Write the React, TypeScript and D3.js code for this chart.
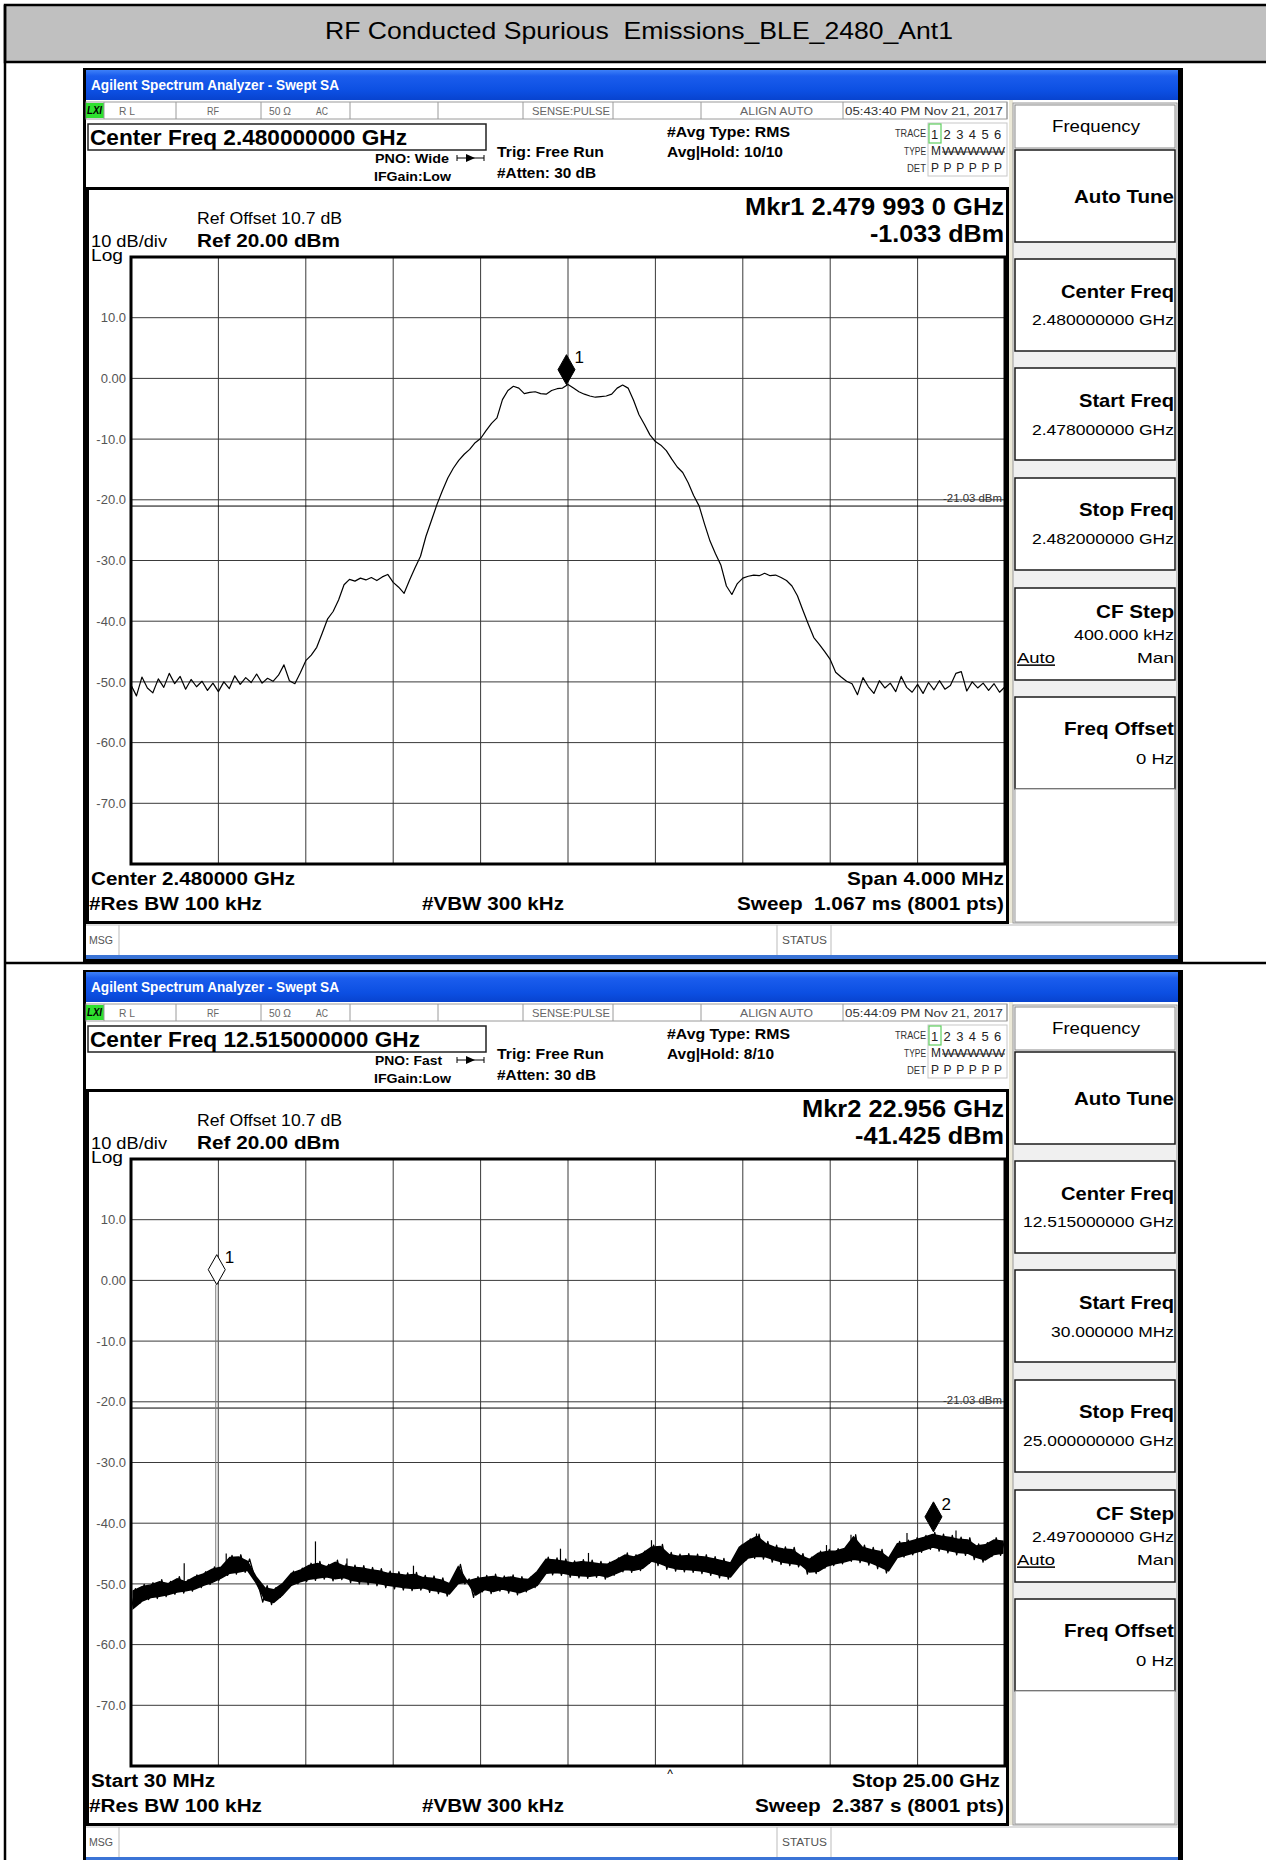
import React from 'react';
import * as d3 from 'd3';

const FONT = '"Liberation Sans", Arial, Helvetica, sans-serif';

const pageTitle = 'RF Conducted Spurious  Emissions_BLE_2480_Ant1';

// amplitude axis (dBm)
const refLevel = 20;
const bottomLevel = -80;
const yTickValues = [10, 0, -10, -20, -30, -40, -50, -60, -70];
const yTickLabels = ['10.0', '0.00', '-10.0', '-20.0', '-30.0', '-40.0', '-50.0', '-60.0', '-70.0'];
const displayLineLevel = -21.03;
const displayLineLabel = '-21.03 dBm';

// ---- Screen 1: 2.478 - 2.482 GHz (MHz), levels every 0.025 MHz
const trace1Start = 2478.0;
const trace1Stop = 2482.0;
const trace1Level = [
  -50.5, -52.3, -49.2, -51.0, -51.8, -49.5, -50.9, -48.6, -50.3, -49.1,
  -51.2, -49.6, -50.8, -49.9, -51.4, -50.2, -51.6, -50.0, -51.1, -49.0,
  -50.4, -49.3, -50.1, -48.7, -50.2, -49.4, -49.9, -48.9, -47.2, -49.8,
  -50.3, -48.5, -46.5, -45.6, -44.3, -42.0, -39.6, -38.4, -36.5, -34.0,
  -33.1, -33.4, -32.9, -33.2, -32.8, -33.3, -32.7, -32.3, -33.6, -34.4,
  -35.4, -33.2, -31.2, -29.3, -26.0, -23.4, -20.8, -18.5, -16.4, -14.8,
  -13.5, -12.5, -11.7, -10.6, -9.9, -8.6, -7.4, -6.5, -3.5, -2.0,
  -1.3, -1.6, -2.5, -2.3, -2.2, -2.5, -2.6, -2.0, -1.7, -1.6,
  -1.0, -1.6, -2.2, -2.6, -2.9, -3.1, -3.0, -2.9, -2.6, -1.6,
  -1.1, -1.6, -3.6, -6.0, -7.6, -9.3, -10.4, -11.0, -11.9, -13.3,
  -14.6, -15.5, -17.2, -19.3, -21.0, -24.0, -26.8, -28.9, -30.8, -34.2,
  -35.6, -33.8, -32.9, -32.6, -32.4, -32.5, -32.1, -32.5, -32.4, -32.8,
  -33.3, -34.2, -35.8, -38.2, -40.5, -42.7, -43.8, -45.0, -46.3, -48.4,
  -49.2, -49.9, -50.3, -52.1, -49.3, -50.8, -51.9, -49.8, -51.0, -50.2,
  -51.6, -49.1, -50.9, -51.7, -50.4, -51.9, -50.1, -51.3, -49.8, -51.2,
  -50.6, -48.6, -48.3, -51.5, -50.0, -51.0, -50.2, -51.4, -50.3, -51.7,
  -50.8,
];
const marker1Freq = [2479.993];
const marker1Level = [-1.033];
const marker1Name = ['1'];
const marker1Filled = [true];

// ---- Screen 2: 30 MHz - 25 GHz (GHz); alternating low/high readings of the noise band
const trace2Start = 0.03;
const trace2Stop = 25.0;
const trace2Level = [
  -54.4, -50.8, -53.2, -50.1, -52.6, -49.8, -52.4, -49.3,
  -52.1, -49.6, -51.7, -48.8, -51.5, -49.3, -51.2, -48.5,
  -50.6, -48.0, -50.1, -47.2, -49.4, -46.9, -48.6, -45.3,
  -48.4, -45.2, -48.1, -45.9, -48.5, -50.2, -53.0, -50.3,
  -53.4, -50.6, -52.2, -49.6, -50.6, -47.9, -50.0, -47.4,
  -49.6, -46.6, -49.4, -46.3, -49.2, -46.8, -49.5, -46.1,
  -49.3, -46.7, -49.8, -46.9, -50.0, -47.0, -50.1, -47.3,
  -50.3, -47.5, -50.6, -47.9, -50.8, -48.0, -51.0, -48.2,
  -51.1, -48.1, -51.0, -48.6, -51.4, -48.7, -51.6, -49.0,
  -52.0, -49.6, -50.3, -46.8, -50.0, -49.2, -52.2, -48.8,
  -51.3, -48.6, -51.6, -48.4, -51.2, -48.7, -51.5, -48.5,
  -51.8, -48.8, -51.3, -48.9, -50.6, -47.6, -48.6, -45.6,
  -48.5, -45.7, -48.6, -45.9, -48.9, -46.2, -49.0, -46.0,
  -49.1, -46.1, -48.9, -46.3, -49.2, -46.4, -48.6, -45.7,
  -48.0, -44.9, -48.1, -45.2, -47.8, -44.6, -46.6, -43.6,
  -47.0, -43.5, -47.6, -44.8, -47.9, -45.1, -48.0, -45.0,
  -48.1, -45.1, -48.3, -45.2, -48.6, -45.5, -49.0, -45.8,
  -49.2, -46.2, -47.4, -43.6, -46.1, -42.6, -45.8, -41.8,
  -45.9, -43.0, -46.4, -43.6, -46.8, -43.9, -47.0, -44.0,
  -47.2, -45.0, -48.4, -45.6, -48.3, -44.6, -47.4, -44.3,
  -47.0, -44.2, -46.7, -43.8, -46.3, -41.9, -46.5, -43.6,
  -46.9, -44.0, -47.5, -44.3, -48.2, -45.4, -46.0, -43.0,
  -45.6, -42.8, -45.2, -42.4, -44.8, -42.0, -44.3, -41.5,
  -44.6, -41.8, -44.9, -42.0, -45.2, -42.3, -45.3, -42.4,
  -46.0, -43.4, -46.4, -43.2, -45.5, -42.4, -45.3, -42.6,
];
// narrow spikes on top of the band
const spur2Freq = [2.48, 5.3, 1.55, 2.75, 6.2, 8.1, 12.3, 13.1, 14.9, 17.9, 19.9, 20.6, 22.2, 23.6];
const spur2Top = [-0.7, -43.0, -46.6, -45.0, -45.8, -47.0, -44.2, -44.9, -42.8, -41.7, -43.6, -41.9, -41.6, -41.2];
const spur2Base = [-47.6, -48.0, -49.5, -47.0, -48.0, -49.3, -47.0, -47.5, -45.2, -44.2, -46.0, -45.0, -44.0, -43.5];
const spur2Gray = [true, false, false, false, false, false, false, false, false, false, false, false, false, false];
const marker2Freq = [2.48, 22.956];
const marker2Level = [-0.7, -41.425];
const marker2Name = ['1', '2'];
const marker2Filled = [false, true];
const caret2Freq = [15.43];

const statusCells = ['R L', 'RF', '50 Ω', 'AC', 'SENSE:PULSE', 'ALIGN AUTO'];

const screens = [
  {
    dy: 0,
    time: '05:43:40 PM Nov 21, 2017',
    center: 'Center Freq 2.480000000 GHz', centerW: 317,
    pno: 'PNO: Wide', pnoW: 74,
    avg: 'Avg|Hold: 10/10', avgW: 116,
    mkrA: 'Mkr1 2.479 993 0 GHz', mkrAW: 259,
    mkrB: '-1.033 dBm', mkrBW: 134,
    keyCenter: '2.480000000 GHz', keyCenterW: 142,
    keyStart: '2.478000000 GHz', keyStartW: 142,
    keyStop: '2.482000000 GHz', keyStopW: 142,
    keyStep: '400.000 kHz', keyStepW: 100,
    botL: 'Center 2.480000 GHz', botLW: 204,
    botR: 'Span 4.000 MHz', botRW: 157, botRX: 1004,
    sweep: 'Sweep  1.067 ms (8001 pts)', sweepW: 267,
    start: trace1Start, stop: trace1Stop, levels: trace1Level, band: false,
    mFreq: marker1Freq, mLevel: marker1Level, mName: marker1Name, mFilled: marker1Filled,
    sFreq: [] as number[], sTop: [] as number[], sBase: [] as number[], sGray: [] as boolean[],
    caret: [] as number[], traceWidth: 1.2,
  },
  {
    dy: 902,
    time: '05:44:09 PM Nov 21, 2017',
    center: 'Center Freq 12.515000000 GHz', centerW: 330,
    pno: 'PNO: Fast', pnoW: 67,
    avg: 'Avg|Hold: 8/10', avgW: 107,
    mkrA: 'Mkr2 22.956 GHz', mkrAW: 202,
    mkrB: '-41.425 dBm', mkrBW: 149,
    keyCenter: '12.515000000 GHz', keyCenterW: 151,
    keyStart: '30.000000 MHz', keyStartW: 123,
    keyStop: '25.000000000 GHz', keyStopW: 151,
    keyStep: '2.497000000 GHz', keyStepW: 142,
    botL: 'Start 30 MHz', botLW: 124,
    botR: 'Stop 25.00 GHz', botRW: 148, botRX: 1000,
    sweep: 'Sweep  2.387 s (8001 pts)', sweepW: 249,
    start: trace2Start, stop: trace2Stop, levels: trace2Level, band: true,
    mFreq: marker2Freq, mLevel: marker2Level, mName: marker2Name, mFilled: marker2Filled,
    sFreq: spur2Freq, sTop: spur2Top, sBase: spur2Base, sGray: spur2Gray,
    caret: caret2Freq, traceWidth: 1.3,
  },
];

// layout
const GX0 = 131, GX1 = 1005, GY0 = 257, GY1 = 864;

type TP = {
  x: number; y: number; size: number; bold?: boolean; anchor?: 'start' | 'middle' | 'end';
  w?: number; fill?: string; italic?: boolean; underline?: boolean; children: React.ReactNode;
};
function T({ x, y, size, bold, anchor = 'start', w, fill = '#000', italic, underline, children }: TP) {
  return (
    <text
      x={x}
      y={y + size * 0.36}
      fontSize={size}
      fontFamily={FONT}
      fontWeight={bold ? 'bold' : 'normal'}
      fontStyle={italic ? 'italic' : 'normal'}
      textAnchor={anchor}
      fill={fill}
      textLength={w}
      lengthAdjust={w ? 'spacingAndGlyphs' : undefined}
      textDecoration={underline ? 'underline' : undefined}
      style={{ whiteSpace: 'pre' }}
    >
      {children}
    </text>
  );
}

function Screen({ cfg }: { cfg: (typeof screens)[number] }) {
  const x = d3.scaleLinear().domain([cfg.start, cfg.stop]).range([GX0, GX1]);
  const y = d3.scaleLinear().domain([bottomLevel, refLevel]).range([GY1, GY0]);
  const n = cfg.levels.length;
  const step = (cfg.stop - cfg.start) / (n - 1);
  const line = d3
    .line<number>()
    .x((_, i) => x(cfg.start + i * step))
    .y((d) => y(d));
  const pairs = d3.range(Math.floor(n / 2)).map((k) => ({
    f: cfg.start + (2 * k + 0.5) * step,
    a: cfg.levels[2 * k],
    b: cfg.levels[2 * k + 1],
  }));
  // solid core of the noise band, inset so the trace teeth stick out of it
  const inset = 2.2;
  const area = d3
    .area<{ f: number; a: number; b: number }>()
    .x((p) => x(p.f))
    .y0((p) => {
      const lo = y(Math.min(p.a, p.b));
      const hi = y(Math.max(p.a, p.b));
      return Math.max(lo - inset, (lo + hi) / 2);
    })
    .y1((p) => {
      const lo = y(Math.min(p.a, p.b));
      const hi = y(Math.max(p.a, p.b));
      return Math.min(hi + inset, (lo + hi) / 2);
    });
  const vGrid = d3.range(11).map((i) => cfg.start + (i * (cfg.stop - cfg.start)) / 10);
  const hGrid = d3.range(bottomLevel, refLevel + 1, 10);

  const statusDiv = [104, 176, 261, 350, 438, 523, 613, 701, 843, 1007];
  const statusX = [119, 207, 269, 316, 532, 740];
  const statusW = [16, 12, 22, 12, 78, 73];

  const keyBoxes = [
    [150, 242], [259, 351], [368, 460], [478, 570], [588, 680], [697, 789],
  ];

  return (
    <g transform={`translate(0,${cfg.dy})`}>
      {/* frame */}
      <rect x={83} y={68} width={1100} height={894} fill="#000" />
      <rect x={86} y={100} width={1092} height={855} fill="#fff" />
      <rect x={86} y={70} width={1092} height={30} fill="url(#xpBlue)" />
      <T x={91} y={85} size={15} bold fill="#fff" w={248}>Agilent Spectrum Analyzer - Swept SA</T>
      <rect x={86} y={955} width={1092} height={4} fill="#3b74d6" />

      {/* status row */}
      <rect x={86} y={102} width={921} height={17} fill="#fff" stroke="#9a9a9a" strokeWidth={1} />
      <rect x={86} y={103} width={18} height={15} fill="#2fe02f" />
      <T x={87} y={110.5} size={10} bold italic w={15} fill="#000">LXI</T>
      {statusDiv.map((d) => (
        <line key={d} x1={d} x2={d} y1={102} y2={119} stroke="#9a9a9a" strokeWidth={1} />
      ))}
      {statusCells.map((s, i) => (
        <T key={s} x={statusX[i]} y={110.5} size={11.5} fill="#666" w={statusW[i]}>{s}</T>
      ))}
      <T x={845} y={110.5} size={11.5} fill="#333" w={158}>{cfg.time}</T>

      {/* header */}
      <rect x={88} y={124} width={398} height={26} fill="#fff" stroke="#222" strokeWidth={1.5} />
      <T x={90} y={137} size={22} bold w={cfg.centerW}>{cfg.center}</T>
      <T x={375} y={158} size={13} bold w={cfg.pnoW}>{cfg.pno}</T>
      <line x1={457} x2={484} y1={158} y2={158} stroke="#000" strokeWidth={1} />
      <line x1={457} x2={457} y1={155} y2={161} stroke="#000" strokeWidth={1} />
      <line x1={484} x2={484} y1={155} y2={161} stroke="#000" strokeWidth={1} />
      <path d="M466,154 L475,158 L466,162 Z" fill="#000" />
      <T x={374} y={176} size={13} bold w={77}>IFGain:Low</T>
      <T x={497} y={152} size={14} bold w={107}>Trig: Free Run</T>
      <T x={497} y={173} size={14} bold w={99}>#Atten: 30 dB</T>
      <T x={667} y={132} size={14} bold w={123}>#Avg Type: RMS</T>
      <T x={667} y={152} size={14} bold w={cfg.avgW}>{cfg.avg}</T>
      <rect x={928} y={123} width={79} height={53} fill="#fff" stroke="#c8c8c8" strokeWidth={1} />
      <rect x={929} y={124} width={12} height={19} fill="none" stroke="#5fcf5f" strokeWidth={1.2} />
      <T x={926} y={133} size={10} anchor="end" fill="#333" w={31}>TRACE</T>
      <T x={926} y={151} size={10} anchor="end" fill="#333" w={22}>TYPE</T>
      <T x={926} y={168} size={10} anchor="end" fill="#333" w={19}>DET</T>
      {['1', '2', '3', '4', '5', '6'].map((c, i) => (
        <T key={'d' + c} x={931 + i * 12.6} y={134} size={13} fill="#222">{c}</T>
      ))}
      <T x={931} y={151} size={12} fill="#222">M</T>
      <T x={942} y={151} size={10} fill="#222" w={63}>WWWWW</T>
      <line x1={942} x2={1005} y1={152} y2={152} stroke="#222" strokeWidth={0.8} />
      {[0, 1, 2, 3, 4, 5].map((i) => (
        <T key={'p' + i} x={931 + i * 12.6} y={168} size={12} fill="#222">P</T>
      ))}

      {/* plot panel */}
      <rect x={87.5} y={188.5} width={920} height={734} fill="#fff" stroke="#000" strokeWidth={3} />
      <rect x={1009} y={100} width={4} height={823} fill="#ece9d8" />
      <T x={91} y={241} size={16} w={76}>10 dB/div</T>
      <T x={91} y={255} size={16} w={32}>Log</T>
      <T x={197} y={218} size={16} w={145}>Ref Offset 10.7 dB</T>
      <T x={197} y={240} size={19} bold w={143}>Ref 20.00 dBm</T>
      <T x={1004} y={206} size={24} bold anchor="end" w={cfg.mkrAW}>{cfg.mkrA}</T>
      <T x={1004} y={233} size={24} bold anchor="end" w={cfg.mkrBW}>{cfg.mkrB}</T>

      {/* graticule */}
      {vGrid.map((v, i) => (
        <line key={'v' + i} x1={x(v)} x2={x(v)} y1={GY0} y2={GY1} stroke="#3a3a3a" strokeWidth={1} />
      ))}
      {hGrid.map((h) => (
        <line key={'h' + h} x1={GX0} x2={GX1} y1={y(h)} y2={y(h)} stroke="#3a3a3a" strokeWidth={1} />
      ))}
      <rect x={GX0} y={GY0} width={GX1 - GX0} height={GY1 - GY0} fill="none" stroke="#000" strokeWidth={3} />
      {yTickValues.map((v, i) => (
        <T key={'yl' + v} x={126} y={y(v)} size={13} anchor="end" fill="#555">{yTickLabels[i]}</T>
      ))}
      <line x1={GX0} x2={GX1} y1={y(displayLineLevel)} y2={y(displayLineLevel)} stroke="#000" strokeWidth={1} />
      <T x={1002} y={y(displayLineLevel) - 8} size={10} anchor="end" fill="#333" w={59}>{displayLineLabel}</T>

      {/* spurs */}
      {cfg.sFreq.map((f, i) =>
        cfg.sGray[i] ? (
          <g key={'s' + i}>
            <line x1={x(f) - 1} x2={x(f) - 1} y1={y(cfg.sBase[i])} y2={y(cfg.sTop[i])} stroke="#7a7a7a" strokeWidth={1} />
            <line x1={x(f) + 1.5} x2={x(f) + 1.5} y1={y(cfg.sBase[i])} y2={y(cfg.sTop[i])} stroke="#7a7a7a" strokeWidth={1} />
          </g>
        ) : (
          <line key={'s' + i} x1={x(f)} x2={x(f)} y1={y(cfg.sBase[i])} y2={y(cfg.sTop[i])} stroke="#000" strokeWidth={1.2} />
        )
      )}

      {/* trace */}
      {cfg.band && <path d={area(pairs) || ''} fill="#000" stroke="#000" strokeWidth={1.5} />}
      <path d={line(cfg.levels) || ''} fill="none" stroke="#000" strokeWidth={cfg.traceWidth} strokeLinejoin="round" />

      {/* markers */}
      {cfg.mFreq.map((f, i) => {
        const mx = x(f);
        const my = y(cfg.mLevel[i]);
        return (
          <g key={'m' + i}>
            <path
              d={`M${mx},${my} L${mx - 8.5},${my - 15} L${mx},${my - 30} L${mx + 8.5},${my - 15} Z`}
              fill={cfg.mFilled[i] ? '#000' : '#fff'}
              stroke="#000"
              strokeWidth={1}
            />
            <T x={mx + 8} y={my - 28} size={17}>{cfg.mName[i]}</T>
          </g>
        );
      })}
      {cfg.caret.map((f, i) => (
        <T key={'c' + i} x={x(f)} y={GY1 + 8} size={12} anchor="middle">^</T>
      ))}

      {/* bottom annotations */}
      <T x={91} y={879} size={18} bold w={cfg.botLW}>{cfg.botL}</T>
      <T x={89} y={904} size={18} bold w={173}>#Res BW 100 kHz</T>
      <T x={422} y={904} size={18} bold w={142}>#VBW 300 kHz</T>
      <T x={cfg.botRX} y={879} size={18} bold anchor="end" w={cfg.botRW}>{cfg.botR}</T>
      <T x={1004} y={904} size={18} bold anchor="end" w={cfg.sweepW}>{cfg.sweep}</T>

      {/* soft keys */}
      <rect x={1013} y={103} width={164} height={820} fill="#f0f0f0" stroke="#9a9a9a" strokeWidth={1} />
      <rect x={1015} y={105} width={160} height={43} fill="#fff" stroke="#8a8a8a" strokeWidth={1} />
      <T x={1096} y={126} size={16} anchor="middle" w={88}>Frequency</T>
      {keyBoxes.map(([a, b], i) => (
        <rect key={'k' + i} x={1015} y={a} width={160} height={b - a} fill="#fff" stroke="#1a1a1a" strokeWidth={1.5} />
      ))}
      <rect x={1015} y={789} width={160} height={133} fill="#fff" stroke="#9a9a9a" strokeWidth={1} />
      <T x={1174} y={196} size={19} bold anchor="end" w={100}>Auto Tune</T>
      <T x={1174} y={291} size={19} bold anchor="end" w={113}>Center Freq</T>
      <T x={1174} y={320} size={15} anchor="end" w={cfg.keyCenterW}>{cfg.keyCenter}</T>
      <T x={1174} y={400} size={19} bold anchor="end" w={95}>Start Freq</T>
      <T x={1174} y={429.5} size={15} anchor="end" w={cfg.keyStartW}>{cfg.keyStart}</T>
      <T x={1174} y={509} size={19} bold anchor="end" w={95}>Stop Freq</T>
      <T x={1174} y={539} size={15} anchor="end" w={cfg.keyStopW}>{cfg.keyStop}</T>
      <T x={1174} y={611} size={19} bold anchor="end" w={78}>CF Step</T>
      <T x={1174} y={635} size={15} anchor="end" w={cfg.keyStepW}>{cfg.keyStep}</T>
      <T x={1017} y={658} size={15} underline w={38}>Auto</T>
      <T x={1174} y={658} size={15} anchor="end" w={37}>Man</T>
      <T x={1174} y={728.5} size={19} bold anchor="end" w={110}>Freq Offset</T>
      <T x={1174} y={759} size={15} anchor="end" w={38}>0 Hz</T>

      {/* message bar */}
      <rect x={86} y={925} width={1092} height={30} fill="#fff" />
      <line x1={86} x2={1178} y1={925} y2={925} stroke="#bbb" strokeWidth={1} />
      <line x1={119} x2={119} y1={925} y2={955} stroke="#bbb" strokeWidth={1} />
      <line x1={777} x2={777} y1={925} y2={955} stroke="#bbb" strokeWidth={1} />
      <line x1={831} x2={831} y1={925} y2={955} stroke="#bbb" strokeWidth={1} />
      <T x={89} y={940} size={10} fill="#555" w={24}>MSG</T>
      <T x={782} y={940} size={10} fill="#555" w={45}>STATUS</T>
    </g>
  );
}

export default function App() {
  return (
    <svg
      width={1266}
      height={1860}
      viewBox="0 0 1266 1860"
      style={{ position: 'absolute', left: 0, top: 0, display: 'block', background: '#fff' }}
    >
      <defs>
        <linearGradient id="xpBlue" x1="0" y1="0" x2="0" y2="1">
          <stop offset="0" stopColor="#3d80f8" />
          <stop offset="0.2" stopColor="#1b5ded" />
          <stop offset="0.7" stopColor="#0c4fe2" />
          <stop offset="1" stopColor="#0843cf" />
        </linearGradient>
      </defs>
      <rect x={0} y={0} width={1266} height={1860} fill="#fff" />
      {/* document table */}
      <rect x={5} y={5} width={1270} height={57} fill="#c0c0c0" stroke="#000" strokeWidth={2.5} />
      <T x={639} y={30} size={24} anchor="middle" w={628}>{pageTitle}</T>
      <line x1={5} x2={1266} y1={963} y2={963} stroke="#000" strokeWidth={2.5} />
      <line x1={5} x2={5} y1={5} y2={1860} stroke="#000" strokeWidth={2.5} />
      {screens.map((s) => (
        <Screen key={s.dy} cfg={s} />
      ))}
    </svg>
  );
}
